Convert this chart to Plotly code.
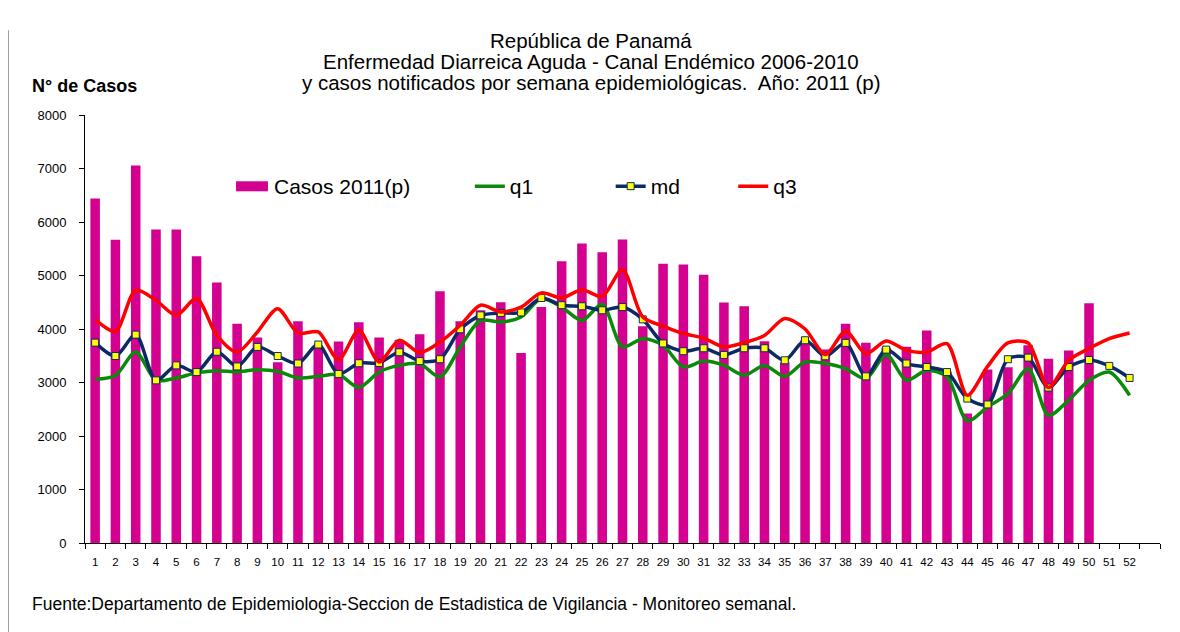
import plotly.graph_objects as go

semanas = list(range(1, 53))
tick_labels = [str(s) for s in semanas]

casos_2011 = [6440, 5670, 7055, 5860, 5860, 5360, 4870, 4100, 3840, 3380,
              4145, 3690, 3765, 4125, 3840, 3800, 3900, 4705, 4145, 4350,
              4500, 3550, 4410, 5265, 5600, 5435, 5675, 4050, 5220, 5205,
              5015, 4495, 4425, 3770, 3380, 3790, 3615, 4100, 3745, 3650,
              3670, 3970, 3200, 2420, 3245, 3285, 3695, 3445, 3600, 4480]

q1 = [3060, 3130, 3570, 3040, 3085, 3180, 3220, 3200, 3240, 3210,
      3085, 3115, 3150, 2905, 3195, 3320, 3350, 3105, 3665, 4160,
      4130, 4225, 4570, 4410, 4160, 4460, 3665, 3820, 3695, 3290,
      3400, 3320, 3135, 3320, 3115, 3385, 3355, 3260, 3070, 3525,
      3040, 3230, 3105, 2280, 2545, 2790, 3260, 2385, 2670, 3040,
      3195, 2760]

md = [3745, 3495, 3895, 3040, 3320, 3195, 3575, 3300, 3665, 3495,
      3355, 3710, 3160, 3360, 3365, 3565, 3400, 3435, 3995, 4255,
      4300, 4310, 4580, 4445, 4425, 4350, 4410, 4180, 3730, 3585,
      3640, 3515, 3640, 3640, 3415, 3790, 3490, 3740, 3115, 3615,
      3355, 3290, 3195, 2700, 2590, 3435, 3465, 2905, 3290, 3420,
      3310, 3085]

q3 = [4180, 3955, 4725, 4535, 4255, 4570, 3880, 3570, 3945, 4380,
      3925, 3945, 3425, 3975, 3385, 3790, 3560, 3755, 4070, 4445,
      4320, 4410, 4675, 4580, 4735, 4610, 5110, 4225, 4055, 3915,
      3830, 3665, 3745, 3880, 4195, 4000, 3525, 3960, 3540, 3775,
      3600, 3570, 3725, 2760, 3300, 3740, 3740, 2905, 3415, 3635,
      3820, 3925]

titulo = ["República de Panamá",
          "Enfermedad Diarreica Aguda - Canal Endémico 2006-2010",
          "y casos notificados por semana epidemiológicas.  Año: 2011 (p)"]

FONT = "Liberation Sans, Arial, sans-serif"
MAGENTA = "#D40090"
GREEN = "#0A8A0A"
NAVY = "#0C2A66"
RED = "#FF0000"

fig = go.Figure()
fig.add_trace(go.Bar(x=semanas[:len(casos_2011)], y=casos_2011, name="Casos 2011(p)",
                     marker=dict(color=MAGENTA, line=dict(width=0)), width=0.47,
                     showlegend=False))
fig.add_trace(go.Scatter(x=semanas, y=q1, name="q1", mode="lines",
                         line=dict(color=GREEN, width=3.5, shape="spline", smoothing=0.8),
                         legend="legend2"))
fig.add_trace(go.Scatter(x=semanas, y=md, name="md", mode="lines+markers",
                         line=dict(color=NAVY, width=3.5, shape="spline", smoothing=0.8),
                         marker=dict(symbol="square", size=7, color="#FFFF00",
                                     line=dict(color=NAVY, width=1)),
                         legend="legend3"))
fig.add_trace(go.Scatter(x=semanas, y=q3, name="q3", mode="lines",
                         line=dict(color=RED, width=3.5, shape="spline", smoothing=0.8),
                         legend="legend4"))

leg_common = dict(orientation="h", yanchor="middle", y=0.833, xanchor="left",
                  font=dict(family=FONT, size=21, color="black"),
                  bgcolor="rgba(0,0,0,0)")
fig.update_layout(
    width=1180, height=632, autosize=False,
    margin=dict(l=77, r=28, t=107, b=97),
    paper_bgcolor="white", plot_bgcolor="white",
    font=dict(family=FONT, color="black"),
    showlegend=True,
    legend2=dict(x=0.358, **leg_common),
    legend3=dict(x=0.489, **leg_common),
    legend4=dict(x=0.603, **leg_common),
)

fig.update_xaxes(range=[0.5, 53.5], tickmode="array", tickvals=semanas, ticktext=tick_labels,
                 ticks="", showline=True, linecolor="black", linewidth=1,
                 showgrid=False, zeroline=False,
                 tickfont=dict(family=FONT, size=11.5, color="black"),
                 ticklabelstandoff=8,
                 minor=dict(ticks="outside", ticklen=5, tick0=0.5, dtick=1,
                            tickcolor="black", tickwidth=1, showgrid=False))
fig.update_yaxes(range=[0, 8000], dtick=1000, tick0=0, ticks="outside", ticklen=5,
                 tickcolor="black", showline=True, linecolor="black", linewidth=1,
                 showgrid=False, zeroline=False, ticklabelstandoff=10,
                 tickfont=dict(family=FONT, size=13, color="black"))

# title lines
for txt, yy in zip(titulo, [1.1745, 1.1255, 1.0764]):
    fig.add_annotation(text=txt, xref="paper", yref="paper", x=0.4707, y=yy,
                       xanchor="center", yanchor="middle", showarrow=False,
                       font=dict(family=FONT, size=20.5, color="black"))

# legend entry for the bars
fig.add_shape(type="rect", xref="paper", yref="paper", x0=0.1405, x1=0.1702,
              y0=0.8217, y1=0.8451, fillcolor=MAGENTA, line=dict(width=0))
fig.add_annotation(text="Casos 2011(p)", xref="paper", yref="paper", x=0.174, y=0.833,
                   xanchor="left", yanchor="middle", showarrow=False,
                   font=dict(family=FONT, size=21, color="black"))

fig.add_annotation(text="<b>N° de Casos</b>", xref="paper", yref="paper",
                   x=-0.0512, y=1.067, xanchor="left", yanchor="middle", showarrow=False,
                   font=dict(family=FONT, size=18, color="black"))
fig.add_annotation(text="Fuente:Departamento de Epidemiologia-Seccion de Estadistica de Vigilancia - Monitoreo semanal.",
                   xref="paper", yref="paper", x=-0.0512, y=-0.1432,
                   xanchor="left", yanchor="middle", showarrow=False,
                   font=dict(family=FONT, size=17.5, color="black"))
fig.add_shape(type="line", xref="paper", yref="paper", x0=-0.0716, x1=-0.0716,
              y0=1.198, y1=-0.25, line=dict(color="#444444", width=1))

fig.write_html("out.html")
